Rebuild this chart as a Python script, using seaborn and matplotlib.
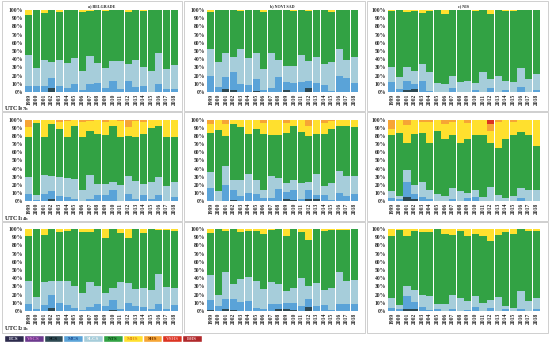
import pandas as pd
import seaborn as sns
import matplotlib.pyplot as plt
from matplotlib.patches import Rectangle
from matplotlib.ticker import FuncFormatter

years = list(range(1999, 2019))
classes = ["ECS", "VSCS", "SCS", "MCS", "SLCS", "NTS", "MHS", "SHS", "VSHS", "EHS"]
class_colors = ["#2c2a4c", "#6c3a8e", "#2d4953", "#5aa3d8", "#a6cdda",
                "#32a244", "#ffe02e", "#f6a535", "#dc3422", "#b0292b"]
label_colors = ["#e0e0ec", "#d878d0", "#0c161c", "#1d4a90", "#f4f4f4",
                "#0e4014", "#e08a1c", "#7a3800", "#f4a0a0", "#f4c8c8"]
cities = ["a) BELGRADE", "b) NOVI SAD", "c) NIS"]
terms = ["07h", "14h", "21h"]

# shares (%) of each UTCI class per year
bg_07 = {
    "SCS":  [0, 0, 0, 5, 0, 0, 0, 0, 0, 0, 0, 0, 0, 0, 0, 0, 0, 0, 0, 0],
    "MCS":  [7, 7, 7, 12, 7, 5, 10, 3, 10, 11, 5, 14, 4, 13, 6, 7, 0, 10, 4, 4],
    "SLCS": [38, 22, 32, 19, 32, 30, 31, 23, 34, 24, 24, 24, 34, 21, 33, 24, 26, 38, 24, 29],
    "NTS":  [49, 71, 57, 64, 59, 65, 59, 71, 55, 65, 70, 62, 62, 63, 61, 68, 74, 52, 72, 67],
    "MHS":  [6, 0, 4, 0, 2, 0, 0, 3, 1, 0, 1, 0, 0, 3, 0, 1, 0, 0, 0, 0],
}
ns_07 = {
    "SCS":  [0, 0, 4, 3, 0, 0, 1, 0, 0, 0, 2, 0, 0, 5, 0, 0, 0, 0, 0, 0],
    "MCS":  [19, 6, 14, 21, 10, 8, 15, 3, 5, 18, 10, 11, 12, 9, 11, 9, 1, 19, 17, 11],
    "SLCS": [34, 31, 30, 19, 42, 33, 31, 25, 43, 21, 20, 21, 33, 24, 32, 25, 36, 33, 22, 32],
    "NTS":  [45, 63, 52, 57, 47, 59, 53, 70, 52, 61, 68, 67, 55, 61, 57, 66, 60, 48, 61, 57],
    "MHS":  [2, 0, 0, 0, 1, 0, 0, 2, 0, 0, 0, 1, 0, 1, 0, 0, 3, 0, 0, 0],
}
ni_07 = {
    "SCS":  [0, 0, 2, 4, 0, 0, 0, 0, 0, 0, 0, 0, 0, 0, 0, 0, 0, 0, 0, 0],
    "MCS":  [12, 4, 11, 6, 13, 1, 0, 0, 5, 0, 0, 2, 0, 5, 0, 2, 0, 6, 0, 2],
    "SLCS": [19, 14, 18, 16, 21, 23, 11, 10, 15, 12, 13, 9, 24, 11, 19, 11, 12, 23, 16, 20],
    "NTS":  [68, 82, 67, 73, 62, 75, 89, 85, 80, 88, 87, 88, 76, 79, 81, 86, 87, 71, 84, 78],
    "MHS":  [1, 0, 2, 1, 4, 1, 0, 5, 0, 0, 0, 1, 0, 5, 0, 1, 1, 0, 0, 0],
}
bg_14 = {
    "SCS":  [0, 0, 0, 2, 0, 0, 0, 0, 0, 0, 0, 0, 0, 0, 0, 0, 0, 0, 0, 0],
    "MCS":  [9, 1, 9, 10, 6, 5, 3, 0, 2, 7, 7, 14, 0, 9, 2, 7, 2, 7, 0, 5],
    "SLCS": [21, 6, 23, 19, 24, 24, 24, 14, 30, 14, 14, 10, 20, 22, 23, 14, 21, 23, 18, 19],
    "NTS":  [49, 89, 47, 64, 59, 50, 66, 65, 54, 62, 61, 68, 59, 49, 54, 62, 67, 63, 61, 55],
    "MHS":  [12, 4, 21, 5, 8, 20, 7, 19, 13, 17, 16, 8, 20, 11, 20, 14, 10, 7, 21, 21],
    "SHS":  [9, 0, 0, 0, 3, 1, 0, 2, 1, 0, 2, 0, 1, 9, 1, 3, 0, 0, 0, 0],
}
ns_14 = {
    "SCS":  [0, 0, 0, 1, 0, 0, 0, 0, 0, 0, 2, 1, 0, 2, 2, 0, 0, 0, 0, 0],
    "MCS":  [16, 0, 20, 12, 6, 10, 9, 4, 4, 15, 9, 12, 3, 11, 5, 7, 1, 10, 6, 9],
    "SLCS": [20, 12, 23, 13, 20, 23, 17, 9, 27, 13, 11, 13, 19, 11, 26, 11, 21, 27, 25, 22],
    "NTS":  [48, 76, 37, 69, 65, 50, 63, 70, 51, 54, 62, 67, 63, 56, 50, 65, 67, 56, 61, 60],
    "MHS":  [11, 12, 15, 5, 9, 17, 11, 13, 18, 18, 12, 7, 15, 13, 17, 13, 10, 7, 8, 9],
    "SHS":  [5, 0, 5, 0, 0, 0, 0, 4, 0, 0, 4, 0, 0, 7, 0, 4, 1, 0, 0, 0],
}
ni_14 = {
    "SCS":  [0, 0, 5, 2, 0, 0, 0, 0, 0, 0, 0, 0, 0, 0, 0, 0, 0, 0, 0, 0],
    "MCS":  [4, 2, 19, 7, 5, 2, 0, 0, 3, 0, 4, 5, 0, 0, 0, 0, 0, 4, 0, 0],
    "SLCS": [8, 4, 14, 11, 18, 11, 9, 6, 13, 12, 6, 8, 5, 17, 7, 4, 6, 12, 13, 13],
    "NTS":  [69, 78, 33, 63, 61, 58, 77, 70, 65, 59, 66, 68, 77, 55, 59, 72, 75, 69, 68, 55],
    "MHS":  [8, 16, 23, 17, 14, 27, 14, 19, 17, 29, 20, 19, 18, 14, 31, 24, 17, 15, 19, 32],
    "SHS":  [11, 0, 6, 0, 2, 2, 0, 5, 2, 0, 4, 0, 0, 9, 3, 0, 2, 0, 0, 0],
    "VSHS": [0, 0, 0, 0, 0, 0, 0, 0, 0, 0, 0, 0, 0, 5, 0, 0, 0, 0, 0, 0],
}
bg_21 = {
    "SCS":  [0, 0, 0, 4, 0, 0, 0, 0, 0, 0, 0, 1, 0, 0, 0, 0, 0, 0, 0, 0],
    "MCS":  [9, 3, 7, 16, 10, 7, 4, 1, 5, 9, 6, 13, 2, 10, 6, 5, 2, 9, 2, 7],
    "SLCS": [27, 14, 28, 17, 27, 30, 26, 21, 30, 22, 16, 14, 33, 24, 21, 23, 24, 36, 27, 21],
    "NTS":  [55, 83, 58, 63, 59, 61, 70, 74, 61, 69, 67, 72, 60, 55, 73, 67, 74, 54, 70, 69],
    "MHS":  [9, 0, 7, 0, 4, 2, 0, 4, 4, 0, 11, 0, 5, 11, 0, 5, 0, 1, 1, 3],
}
ns_21 = {
    "SCS":  [1, 0, 2, 1, 0, 0, 0, 0, 0, 2, 2, 1, 0, 5, 0, 0, 0, 0, 0, 0],
    "MCS":  [12, 6, 13, 14, 11, 12, 4, 3, 9, 7, 8, 9, 6, 10, 6, 7, 1, 9, 9, 9],
    "SLCS": [31, 14, 32, 18, 28, 29, 32, 24, 26, 24, 14, 18, 34, 16, 28, 19, 27, 38, 28, 29],
    "NTS":  [51, 80, 50, 67, 57, 57, 62, 67, 64, 67, 67, 72, 56, 56, 66, 71, 71, 52, 62, 62],
    "MHS":  [5, 0, 3, 0, 4, 2, 2, 6, 1, 0, 9, 0, 4, 13, 0, 3, 1, 1, 1, 0],
}
ni_21 = {
    "SCS":  [0, 0, 2, 3, 0, 0, 0, 0, 0, 0, 0, 0, 0, 0, 0, 0, 0, 0, 0, 0],
    "MCS":  [4, 3, 16, 8, 5, 1, 3, 0, 2, 0, 1, 5, 0, 4, 0, 3, 0, 2, 0, 3],
    "SLCS": [12, 4, 13, 15, 15, 17, 6, 9, 17, 16, 11, 13, 10, 10, 17, 3, 4, 22, 12, 13],
    "NTS":  [75, 92, 60, 72, 76, 78, 91, 85, 74, 82, 80, 76, 82, 71, 76, 90, 90, 76, 86, 81],
    "MHS":  [9, 1, 9, 2, 4, 4, 0, 6, 7, 2, 8, 6, 8, 15, 7, 4, 6, 0, 2, 3],
}

panels = [[bg_07, ns_07, ni_07],
          [bg_14, ns_14, ni_14],
          [bg_21, ns_21, ni_21]]

sns.set_style("white")
plt.rcParams["font.family"] = ["Liberation Serif", "DejaVu Serif"]
plt.rcParams["font.weight"] = "bold"
plt.rcParams["mathtext.fontset"] = "custom"
plt.rcParams["mathtext.rm"] = "Liberation Serif:bold"

W, H = 550, 345
fig = plt.figure(figsize=(5.5, 3.45), dpi=100)
pal = dict(zip(classes, class_colors))


def px_box(x0, y0, x1, y1):
    # pixel box (top-left origin) -> figure fraction rect
    return [x0 / W, 1 - y1 / H, (x1 - x0) / W, (y1 - y0) / H]


# panel frames
for fx0, fx1 in [(2, 182), (184, 365), (367, 548)]:
    for fy0, fy1 in [(1, 111), (112, 221), (222, 333)]:
        r = px_box(fx0, fy0, fx1, fy1)
        fig.patches.append(Rectangle((r[0], r[1]), r[2], r[3], transform=fig.transFigure,
                                     fill=False, edgecolor="#c8c8c8", linewidth=0.6))

col_x = [(25, 178), (207, 358), (388, 540)]
row_y = [(10, 92), (120, 201), (229, 311)]
label_y = [110.5, 220, 330]

for i in range(3):
    for j in range(3):
        panel = panels[i][j]
        rows = []
        for cls, vals in panel.items():
            for yr, v in zip(years, vals):
                if v > 0:
                    rows.append((yr, cls, v))
        df = pd.DataFrame(rows, columns=["year", "class", "share"])
        present = [c for c in classes[::-1] if c in set(df["class"])]

        ax = fig.add_axes(px_box(col_x[j][0], row_y[i][0], col_x[j][1], row_y[i][1]))
        sns.histplot(data=df, x="year", weights="share", hue="class", hue_order=present,
                     palette=pal, multiple="stack", discrete=True, shrink=0.93,
                     alpha=1, linewidth=0, legend=False, ax=ax)
        ax.set_xlim(1998.5, 2018.5)
        ax.set_ylim(0, 100)
        ax.set_yticks(range(0, 101, 10))
        ax.yaxis.set_major_formatter(FuncFormatter(lambda v, p: f"{int(v)}%"))
        ax.set_xticks(years)
        ax.set_xticklabels([str(y) for y in years], rotation=90)
        ax.tick_params(axis="both", length=0, pad=1.5, labelsize=4)
        ax.set_xlabel("")
        ax.set_ylabel("")
        for s in ax.spines.values():
            s.set_visible(False)
        if i == 0:
            ax.set_title(cities[j], fontsize=3, pad=2, fontweight="bold")

    fig.text(4 / W, 1 - label_y[i] / H, r"UTCI$_{\mathrm{" + terms[i] + "}}$",
             fontsize=4.6, fontweight="bold", va="baseline", ha="left")

# colour legend strip
lax = fig.add_axes(px_box(4, 335, 202, 342))
lax.bar(range(len(classes)), [1] * len(classes), width=1, color=class_colors)
for k, (name, tc) in enumerate(zip(classes, label_colors)):
    lax.text(k, 0.5, name, ha="center", va="center", fontsize=3.6, color=tc, fontweight="bold")
lax.set_xlim(-0.5, len(classes) - 0.5)
lax.set_ylim(0, 1)
lax.axis("off")

fig.savefig("out.png", dpi=100)
